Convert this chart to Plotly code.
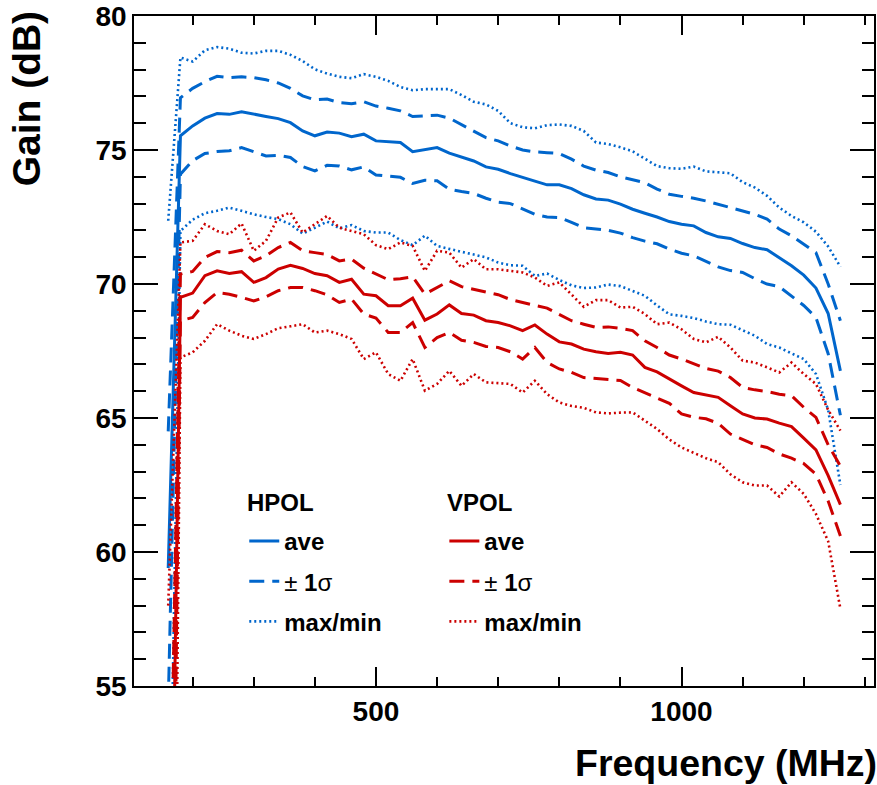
import plotly.graph_objects as go

freq = [160, 180, 200, 220, 240, 260, 280, 300, 320, 340, 360, 380, 400, 420, 440, 460, 480, 500,
        520, 540, 560, 580, 600, 620, 640, 660, 680, 700, 720, 740, 760, 780, 800, 820, 840, 860,
        880, 900, 920, 940, 960, 980, 1000, 1020, 1040, 1060, 1080, 1100, 1120, 1140, 1160, 1180,
        1200, 1220, 1240, 1260]

hpol_ave = [59.4, 75.53, 75.9, 76.19, 76.36, 76.33, 76.43, 76.33, 76.25, 76.17, 76.02, 75.71, 75.53,
            75.67, 75.63, 75.5, 75.59, 75.34, 75.31, 75.28, 74.94, 75.02, 75.09, 74.88, 74.74, 74.59,
            74.37, 74.28, 74.12, 73.97, 73.84, 73.7, 73.7, 73.56, 73.33, 73.17, 73.13, 72.98, 72.79,
            72.64, 72.5, 72.33, 72.23, 72.17, 71.92, 71.76, 71.7, 71.51, 71.36, 71.28, 70.99, 70.68,
            70.33, 69.85, 68.9, 66.76]
hpol_up = [64.5, 76.95, 77.3, 77.55, 77.75, 77.7, 77.73, 77.7, 77.62, 77.5, 77.3, 77.02, 76.87, 76.9,
           76.77, 76.73, 76.8, 76.64, 76.56, 76.46, 76.25, 76.27, 76.3, 76.19, 75.95, 75.7, 75.46,
           75.34, 75.15, 75.0, 74.93, 74.9, 74.87, 74.66, 74.4, 74.25, 74.16, 74.0, 73.9, 73.78, 73.54,
           73.35, 73.27, 73.2, 73.1, 72.98, 72.85, 72.74, 72.6, 72.42, 72.05, 71.8, 71.5, 71.17, 70.0,
           68.63]
hpol_dn = [54.3, 74.1, 74.6, 74.87, 74.94, 74.97, 75.09, 74.94, 74.78, 74.8, 74.72, 74.38, 74.22,
           74.43, 74.4, 74.26, 74.37, 74.07, 74.03, 73.98, 73.75, 73.87, 73.85, 73.54, 73.45, 73.38,
           73.2, 73.05, 73.0, 72.79, 72.6, 72.5, 72.48, 72.3, 72.1, 72.05, 72.0, 71.9, 71.73, 71.6,
           71.5, 71.3, 71.15, 71.05, 70.86, 70.64, 70.5, 70.43, 70.2, 70.0, 69.9, 69.56, 69.2, 68.75,
           67.4, 65.1]
hpol_max = [72.36, 78.45, 78.3, 78.72, 78.84, 78.78, 78.63, 78.6, 78.7, 78.7, 78.55, 78.32, 78.01,
            77.85, 77.73, 77.68, 77.83, 77.73, 77.58, 77.35, 77.23, 77.27, 77.27, 77.27, 77.05, 76.8,
            76.7, 76.46, 76.0, 75.85, 75.81, 75.93, 75.95, 75.9, 75.71, 75.28, 75.22, 75.1, 74.95,
            74.66, 74.4, 74.32, 74.3, 74.38, 74.2, 74.17, 74.13, 73.8, 73.6, 73.29, 72.85, 72.54, 72.3,
            71.95, 71.4, 70.64]
hpol_min = [45.0, 71.98, 72.4, 72.64, 72.73, 72.85, 72.73, 72.6, 72.5, 72.42, 72.23, 71.88, 72.1,
            72.33, 72.08, 72.2, 71.98, 71.92, 71.92, 71.64, 71.45, 71.8, 71.42, 71.3, 71.2, 71.1,
            70.99, 70.8, 70.7, 70.68, 70.3, 70.39, 70.15, 69.95, 69.85, 69.87, 69.98, 69.92, 69.75,
            69.56, 69.2, 68.87, 68.81, 68.73, 68.6, 68.5, 68.48, 68.28, 68.07, 67.76, 67.63, 67.41,
            67.2, 66.64, 65.3, 62.5]

vpol_ave = [38.7, 69.5, 69.66, 70.31, 70.49, 70.39, 70.46, 70.06, 70.24, 70.56, 70.7, 70.58, 70.39,
            70.31, 70.06, 70.18, 69.62, 69.56, 69.19, 69.19, 69.47, 68.65, 68.88, 69.22, 68.9, 68.84,
            68.63, 68.56, 68.44, 68.26, 68.47, 68.13, 67.84, 67.76, 67.57, 67.47, 67.41, 67.45, 67.35,
            66.89, 66.72, 66.45, 66.2, 65.95, 65.85, 65.77, 65.46, 65.15, 65.0, 64.96, 64.81, 64.68,
            64.25, 63.81, 62.85, 61.77]
vpol_up = [45.0, 70.37, 70.47, 70.99, 71.21, 71.17, 71.26, 70.86, 71.05, 71.36, 71.55, 71.24, 71.17,
           71.1, 70.86, 70.93, 70.59, 70.39, 70.16, 70.2, 70.27, 69.62, 69.87, 70.12, 69.9, 69.8, 69.7,
           69.6, 69.42, 69.3, 69.2, 69.1, 68.88, 68.63, 68.5, 68.38, 68.4, 68.35, 68.26, 67.88, 67.63,
           67.35, 67.2, 67.01, 66.85, 66.75, 66.51, 66.14, 66.05, 65.99, 65.89, 65.83, 65.4, 65.02,
           64.0, 63.2]
vpol_dn = [32.0, 68.63, 68.75, 69.31, 69.68, 69.62, 69.5, 69.37, 69.52, 69.75, 69.87, 69.87, 69.75,
           69.6, 69.31, 69.44, 68.88, 68.73, 68.19, 68.19, 68.56, 67.63, 68.0, 68.19, 67.9, 67.82,
           67.67, 67.63, 67.47, 67.2, 67.63, 67.07, 66.83, 66.7, 66.51, 66.48, 66.44, 66.4, 66.14,
           65.95, 65.75, 65.55, 65.15, 65.03, 64.97, 64.8, 64.4, 64.2, 64.0, 63.9, 63.66, 63.5, 63.3,
           62.9, 61.9, 60.6]
vpol_max = [58.0, 71.55, 71.61, 72.23, 71.98, 71.86, 72.26, 71.24, 71.61, 72.48, 72.67, 71.92, 72.23,
            72.54, 72.1, 71.98, 71.86, 71.45, 71.3, 71.55, 71.42, 70.49, 71.24, 71.17, 70.61, 70.93,
            70.55, 70.55, 70.49, 70.43, 70.24, 69.93, 70.06, 69.62, 69.15, 69.4, 69.4, 69.12, 69.15,
            68.88, 68.5, 68.56, 68.31, 67.95, 67.82, 68.03, 67.63, 67.14, 67.07, 66.89, 66.7, 67.07,
            66.64, 66.27, 65.3, 64.53]
vpol_min = [20.0, 67.26, 67.45, 67.88, 68.5, 68.26, 68.07, 67.95, 68.13, 68.35, 68.42, 68.5, 68.19,
            68.26, 68.13, 67.95, 67.2, 67.45, 66.64, 66.39, 67.2, 66.02, 66.27, 66.76, 66.2, 66.64,
            66.33, 66.3, 66.27, 65.95, 66.39, 65.89, 65.58, 65.45, 65.38, 65.21, 65.17, 65.2, 65.21,
            64.9, 64.59, 64.2, 63.9, 63.7, 63.5, 63.35, 62.9, 62.6, 62.48, 62.48, 62.07, 62.6, 62.17,
            61.42, 60.4, 57.88]

x_ticks = [500, 1000]
y_ticks = [55, 60, 65, 70, 75, 80]

BLUE = "#0066cc"
RED = "#cc0000"
SOLID = dict(width=3, dash="solid")
DASH = dict(width=3, dash="15px,8px")
DOT = dict(width=2.6, dash="2px,3px")

fig = go.Figure()


def add(y, color, style, name, group, legend, show=True):
    fig.add_trace(go.Scatter(
        x=freq, y=y, mode="lines", name=name,
        line=dict(color=color, **style),
        legendgroup=group, showlegend=show, legend=legend,
    ))


# HPOL
add(hpol_ave, BLUE, SOLID, "<b>ave</b>", "h1", "legend")
add(hpol_up, BLUE, DASH, "± <b>1</b>σ", "h2", "legend")
add(hpol_dn, BLUE, DASH, "± <b>1</b>σ", "h2", "legend", show=False)
add(hpol_max, BLUE, DOT, "<b>max/min</b>", "h3", "legend")
add(hpol_min, BLUE, DOT, "<b>max/min</b>", "h3", "legend", show=False)
# VPOL
add(vpol_ave, RED, SOLID, "<b>ave</b>", "v1", "legend2")
add(vpol_up, RED, DASH, "± <b>1</b>σ", "v2", "legend2")
add(vpol_dn, RED, DASH, "± <b>1</b>σ", "v2", "legend2", show=False)
add(vpol_max, RED, DOT, "<b>max/min</b>", "v3", "legend2")
add(vpol_min, RED, DOT, "<b>max/min</b>", "v3", "legend2", show=False)

FONT = "Liberation Sans, Arial, Helvetica, sans-serif"

axis_common = dict(
    showgrid=False, zeroline=False, showline=True, linecolor="black", linewidth=1.5,
    mirror="allticks", ticks="inside", tickcolor="black", tickwidth=1.5,
    ticklabeloverflow="allow",
    tickfont=dict(family=FONT, size=28, color="black", weight="bold"),
)

fig.update_xaxes(
    range=[104, 1315], tickmode="array", tickvals=x_ticks, ticklen=19,
    minor=dict(ticks="inside", dtick=100, tick0=0, ticklen=9, tickcolor="black", tickwidth=1.5),
    **axis_common,
)
fig.update_yaxes(
    range=[55, 80], tickmode="array", tickvals=y_ticks, ticklen=24,
    minor=dict(ticks="inside", dtick=1, tick0=55, ticklen=12, tickcolor="black", tickwidth=1.5),
    **axis_common,
)

legend_common = dict(
    bgcolor="rgba(0,0,0,0)", borderwidth=0, traceorder="grouped", tracegroupgap=6,
    font=dict(family=FONT, size=24, color="black"),
    yanchor="top", xanchor="left",
)

fig.update_layout(
    width=877, height=785, autosize=False,
    margin=dict(l=134, r=1, t=15, b=99),
    paper_bgcolor="white", plot_bgcolor="white",
    legend=dict(x=0.149, y=0.2495, **legend_common),
    legend2=dict(x=0.4194, y=0.2495, **legend_common),
    annotations=[
        dict(text="<b>HPOL</b>", xref="paper", yref="paper", x=0.1496, y=0.2742,
             xanchor="left", yanchor="middle", showarrow=False,
             font=dict(family=FONT, size=24, color="black")),
        dict(text="<b>VPOL</b>", xref="paper", yref="paper", x=0.4205, y=0.2742,
             xanchor="left", yanchor="middle", showarrow=False,
             font=dict(family=FONT, size=24, color="black")),
        dict(text="<b>Frequency (MHz)</b>", xref="paper", yref="paper", x=1.0, y=-0.115,
             xanchor="right", yanchor="middle", showarrow=False, xshift=5,
             font=dict(family=FONT, size=37.5, color="black")),
        dict(text="<b>Gain (dB)</b>", xref="paper", yref="paper", x=-0.146, y=0.877,
             xanchor="center", yanchor="middle", textangle=-90, showarrow=False,
             font=dict(family=FONT, size=39, color="black")),
    ],
)

fig.write_html("out.html")
